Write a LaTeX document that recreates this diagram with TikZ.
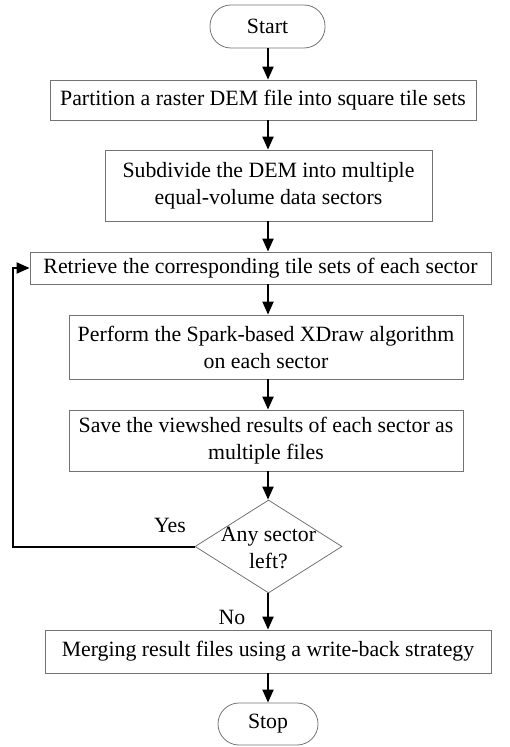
\documentclass[tikz,border=0pt]{standalone}
\usepackage{fontspec}
\setmainfont{Liberation Serif}
\usetikzlibrary{arrows.meta}
\usetikzlibrary{shapes.geometric}

\begin{document}
\begin{tikzpicture}[x=0.5pt,y=-0.5pt,
    every node/.style={font=\fontsize{10.9}{13.5}\selectfont},
    stepbox/.style={draw=black!55,line width=0.4pt,inner sep=0pt,align=center},
    endbox/.style={stepbox,rounded corners=10.5pt},
    decbox/.style={diamond,draw=black!55,line width=0.4pt,inner sep=0pt},
    arr/.style={-{Triangle[length=6.5pt,width=5.5pt]},line width=1pt}]
  \useasboundingbox (0,0) rectangle (509,747);
  \coordinate (axis) at (268,0);
  \coordinate (loopx) at (13,0);
  \node[endbox,minimum width=57.5pt,minimum height=21.5pt] (start) at (267.5,26.5) {Start};
  \node[stepbox,minimum width=213pt,minimum height=20pt] (b1) at (263,100)
    {Partition a raster DEM file into square tile sets};
  \node[stepbox,minimum width=163.5pt,minimum height=35.5pt] (b2) at (268.5,185.5)
    {Subdivide the DEM into multiple\\equal-volume data sectors};
  \node[stepbox,minimum width=230.5pt,minimum height=16pt] (b3) at (260.5,268)
    {Retrieve the corresponding tile sets of each sector};
  \node[stepbox,minimum width=197pt,minimum height=32pt] (b4) at (266,347)
    {Perform the Spark-based XDraw algorithm\\on each sector};
  \node[stepbox,minimum width=197pt,minimum height=30.5pt] (b5) at (266,440.5)
    {Save the viewshed results of each sector as\\multiple files};
  \node[decbox,minimum width=73.5pt,minimum height=46.5pt] (dec) at (268.5,546.5) {};
  \node[align=center,inner sep=0pt] (dectext) at (268.5,548) {Any sector\\left?};
  \node[stepbox,minimum width=223pt,minimum height=21.5pt] (b6) at (268,651.5)
    {Merging result files using a write-back strategy};
  \node[endbox,minimum width=50pt,minimum height=21pt] (stop) at (268,724) {Stop};
  \node (yes) at (170,525) {Yes};
  \node (no) at (232,617) {No};
  % main flow
  \foreach \a/\b in {start/b1,b1/b2,b2/b3,b3/b4,b4/b5,b5/dec,dec/b6,b6/stop}
    \draw[arr] (axis |- \a.south) -- (axis |- \b.north);
  % loop back
  \draw[arr] (dec.west) -- (dec.west -| loopx) |- (b3.west);
\end{tikzpicture}
\end{document}
